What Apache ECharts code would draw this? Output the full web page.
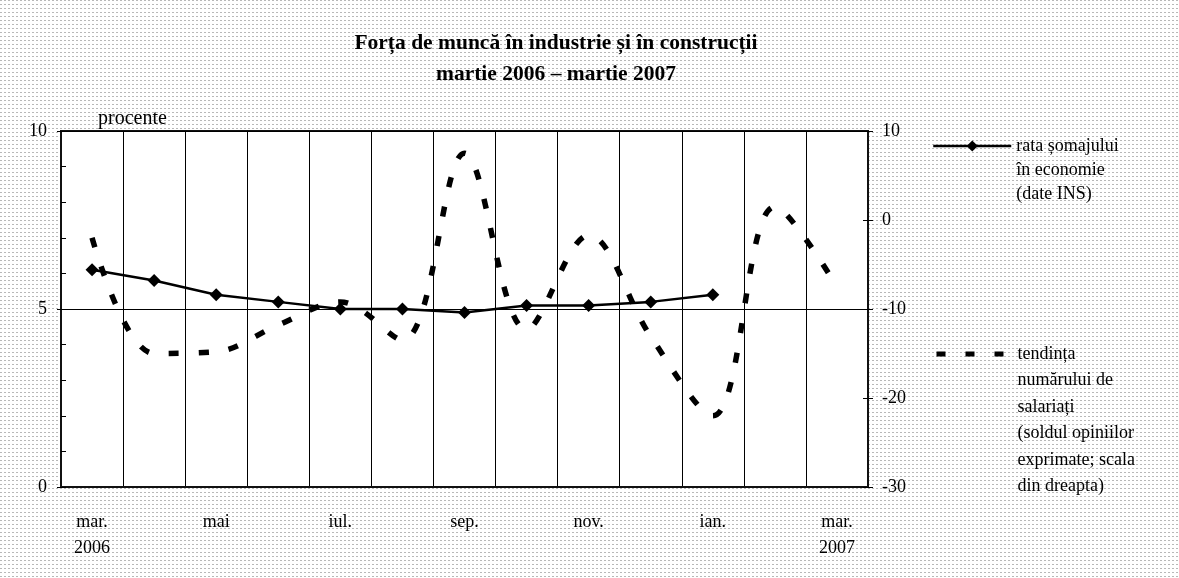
<!DOCTYPE html>
<html>
<head>
<meta charset="utf-8">
<script src="https://cdn.jsdelivr.net/npm/echarts@6/dist/echarts.min.js"></script>
<style>
  html, body { margin: 0; padding: 0; }
  #chart { width: 1179px; height: 578px; }
</style>
</head>
<body>
<div id="chart"></div>
<script>
// months mar. 2006 – mar. 2007
const months = ['mar.\n2006', 'apr.', 'mai', 'iun.', 'iul.', 'aug.', 'sep.', 'oct.', 'nov.', 'dec.', 'ian.', 'feb.', 'mar.\n2007']
// rata somajului (%, scala din stanga)
const unemploymentRate = [6.1, 5.8, 5.4, 5.2, 5.0, 5.0, 4.9, 5.1, 5.1, 5.2, 5.4, null, null]
// tendinta numarului de salariati (sold, scala din dreapta)
const employeeTrend = [-2, -15.0, -14.8, -11.8, -9.2, -13.5, 7.5, -12.3, -1.7, -13.1, -22.0, 1.5, -7.5]
const leftScale = { min: 0, max: 10, interval: 5 }
const rightScale = { min: -30, max: 10, interval: 10 }

const nameRate = 'rata șomajului\nîn economie\n(date INS)'
const nameTrend = 'tendința\nnumărului de\nsalariați\n(soldul opiniilor\nexprimate; scala\ndin dreapta)'

const font = 'Liberation Serif'

// dotted background, like the original sheet
const pat = document.createElement('canvas')
pat.width = 4
pat.height = 4
const pctx = pat.getContext('2d')
pctx.fillStyle = '#ffffff'
pctx.fillRect(0, 0, 4, 4)
pctx.fillStyle = '#b8b8b8'
pctx.fillRect(0, 0, 2, 1)

// legend text: first line sits next to the icon, rest hangs below
function hanging(name) {
  const n = name.split('\n').length
  return '\n'.repeat(n - 1) + name
}

const chart = echarts.init(document.getElementById('chart'))

chart.setOption({
  animation: false,
  backgroundColor: { image: pat, repeat: 'repeat' },
  textStyle: { fontFamily: font, color: '#000' },
  title: {
    text: 'Forța de muncă în industrie și în construcții\nmartie 2006 – martie 2007',
    left: 556,
    top: 28,
    padding: 0,
    textAlign: 'center',
    textStyle: { fontFamily: font, fontWeight: 'bold', fontSize: 21.5, lineHeight: 31, color: '#000' },
  },
  legend: [
    {
      data: [nameRate],
      orient: 'vertical',
      left: 932,
      top: 146 - 60,
      padding: 0,
      itemWidth: 78,
      itemHeight: 14,
      formatter: hanging,
      lineStyle: { width: 2.5 },
      textStyle: { fontFamily: font, fontSize: 18, lineHeight: 24, color: '#000' },
    },
    {
      data: [nameTrend],
      orient: 'vertical',
      left: 934,
      top: 354 - 145.75,
      padding: 0,
      itemWidth: 76,
      itemHeight: 14,
      formatter: hanging,
      itemStyle: { opacity: 0 },
      lineStyle: { width: 5, type: [9, 20] },
      textStyle: { fontFamily: font, fontSize: 18, lineHeight: 26.5, color: '#000' },
    },
  ],
  grid: {
    left: 61, right: 311, top: 131, bottom: 91,
    show: true,
    backgroundColor: '#fff',
    borderColor: '#111',
    borderWidth: 2,
  },
  xAxis: {
    type: 'category',
    data: months,
    boundaryGap: true,
    axisLine: { lineStyle: { color: '#111', width: 2 } },
    axisTick: { show: false },
    splitLine: { show: true, interval: 0, lineStyle: { color: '#000', width: 1 } },
    axisLabel: { interval: 1, fontFamily: font, fontSize: 18, lineHeight: 26, color: '#000', margin: 22 },
  },
  yAxis: [
    {
      type: 'value',
      ...leftScale,
      name: 'procente',
      nameLocation: 'end',
      nameGap: 2,
      nameTextStyle: { fontFamily: font, fontSize: 20, color: '#000', align: 'left', verticalAlign: 'bottom', padding: [0, 0, 0, 37] },
      axisLine: { show: true, lineStyle: { color: '#111', width: 2 } },
      axisTick: { show: true, inside: true, length: 5, lineStyle: { color: '#000' } },
      minorTick: { show: true, splitNumber: 5, length: 5, lineStyle: { color: '#000' } },
      splitLine: { show: true, lineStyle: { color: '#000', width: 1 } },
      axisLabel: { fontFamily: font, fontSize: 18, color: '#000', margin: 14 },
    },
    {
      type: 'value',
      ...rightScale,
      position: 'right',
      axisLine: { show: true, lineStyle: { color: '#111', width: 2 } },
      axisTick: { show: true, length: 5, lineStyle: { color: '#000' } },
      splitLine: { show: false },
      axisLabel: { fontFamily: font, fontSize: 18, color: '#000', margin: 14 },
    },
    {
      // inner half of the crossing ticks on the right scale
      type: 'value',
      ...rightScale,
      position: 'right',
      axisLine: { show: false },
      axisTick: { show: true, inside: true, length: 5, lineStyle: { color: '#000' } },
      axisLabel: { show: false },
      splitLine: { show: false },
    },
    {
      // outer half of the crossing ticks on the left scale
      type: 'value',
      ...leftScale,
      position: 'left',
      axisLine: { show: false },
      axisTick: { show: true, length: 4, lineStyle: { color: '#000' } },
      axisLabel: { show: false },
      splitLine: { show: false },
    },
  ],
  series: [
    {
      name: nameRate,
      type: 'line',
      yAxisIndex: 0,
      data: unemploymentRate,
      symbol: 'diamond',
      symbolSize: 13,
      lineStyle: { color: '#000', width: 2.5 },
      itemStyle: { color: '#000' },
    },
    {
      name: nameTrend,
      type: 'line',
      yAxisIndex: 1,
      data: employeeTrend,
      smooth: 0.35,
      symbol: 'none',
      lineStyle: { color: '#000', width: 5.5, type: [10, 20], cap: 'butt' },
      itemStyle: { color: '#000' },
    },
  ],
})
</script>
</body>
</html>
